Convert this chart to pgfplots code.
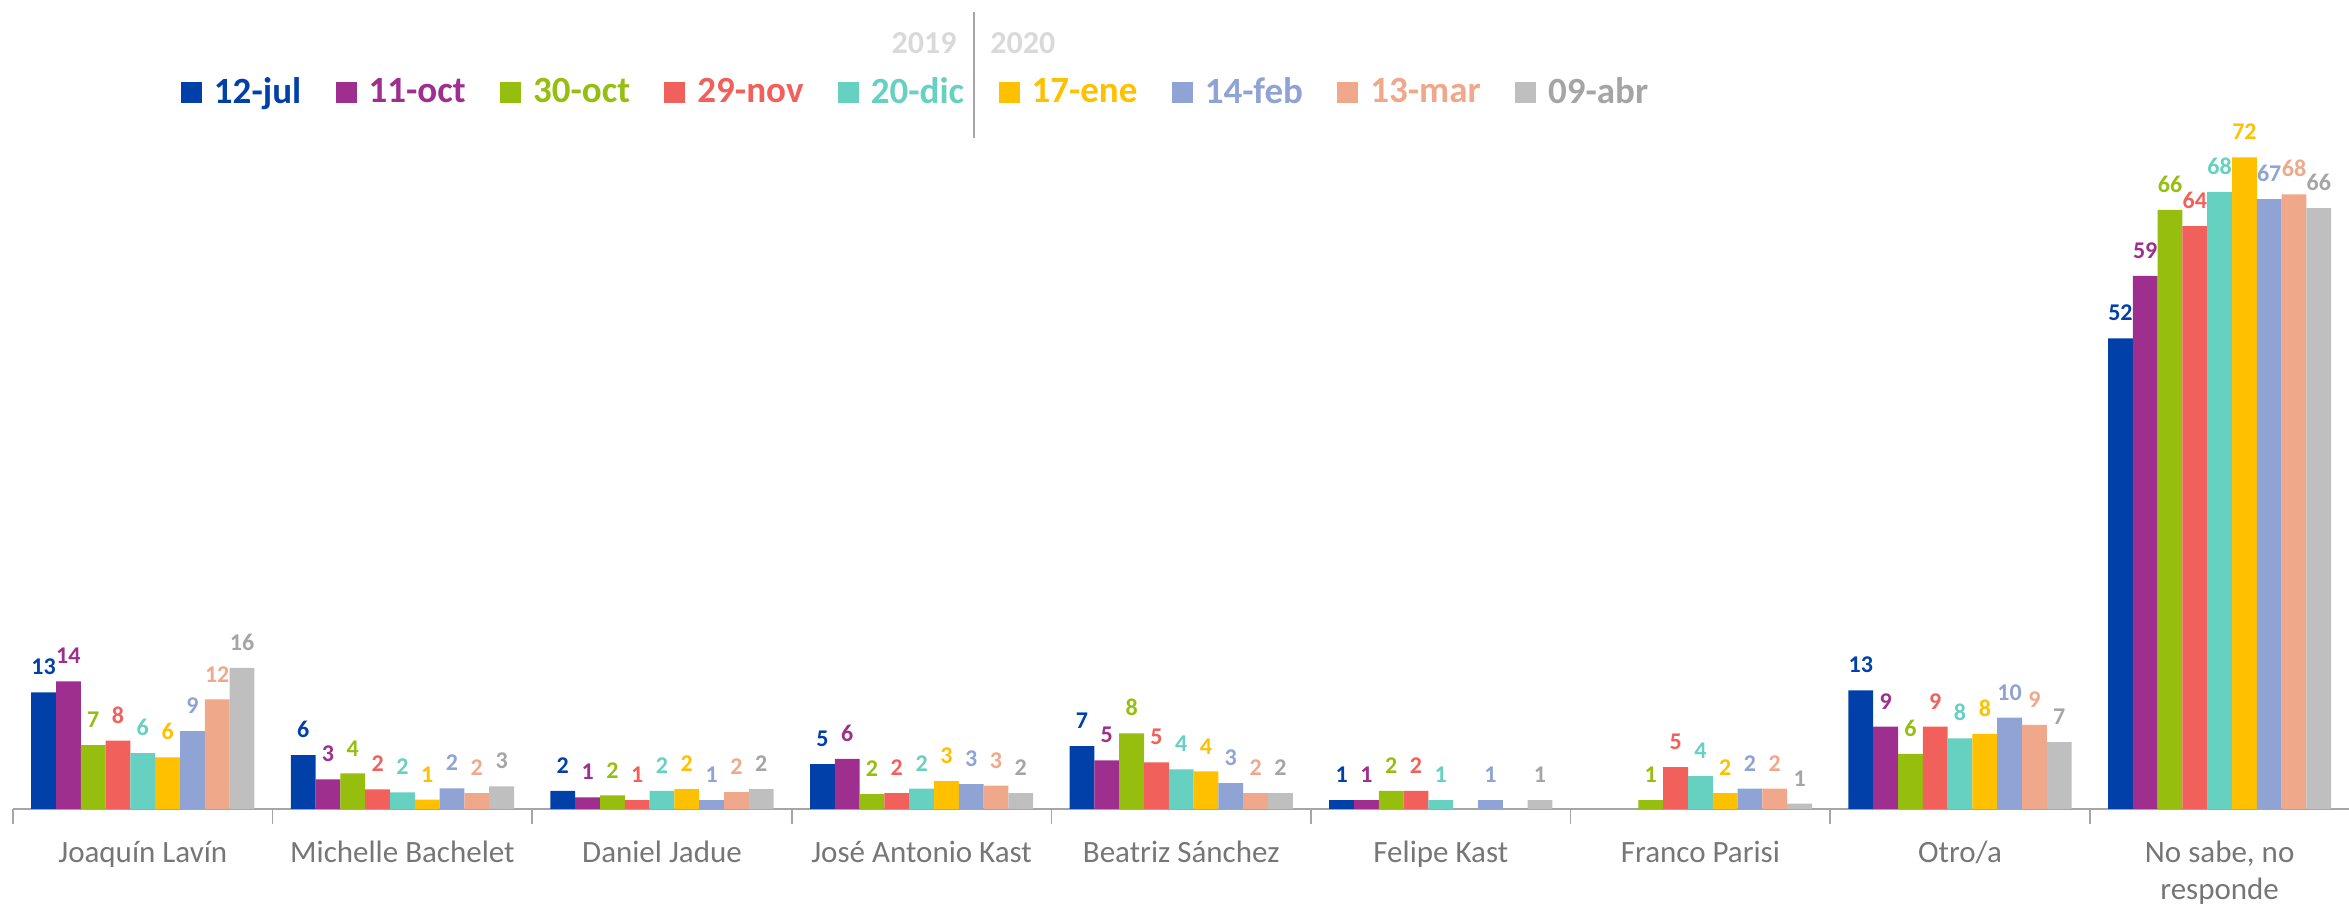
\documentclass[border=0pt]{standalone}
\usepackage{pgfplots}
\pgfplotsset{compat=1.18}
\usepackage{pgfplotstable}
\usepackage{fontspec}
\setmainfont{Carlito}
\definecolor{c1}{HTML}{0040A8}
\definecolor{c2}{HTML}{9E2F8F}
\definecolor{c3}{HTML}{96BE0F}
\definecolor{c4}{HTML}{F2605C}
\definecolor{c5}{HTML}{66D0C1}
\definecolor{c6}{HTML}{FFC000}
\definecolor{c7}{HTML}{8FA3D4}
\definecolor{c8}{HTML}{F0A88A}
\definecolor{c9}{HTML}{BFBFBF}
\definecolor{c9t}{HTML}{A5A5A5}
\definecolor{axgray}{HTML}{A6A6A6}
\definecolor{labgray}{HTML}{767676}
\definecolor{yeargray}{HTML}{D9D9D9}

\pgfplotstableread{
x y l
0 12.9 13
1 5.96 6
2 1.99 2
3 4.96 5
4 6.95 7
5 0.99 1
7 13.1 13
8 52.0 52
}\tA
\pgfplotstableread{
x y l
0 14.1 14
1 3.27 3
2 1.29 1
3 5.55 6
4 5.37 5
5 0.99 1
7 9.1 9
8 58.9 59
}\tB
\pgfplotstableread{
x y l
0 7.06 7
1 3.93 4
2 1.5 2
3 1.65 2
4 8.35 8
5 1.99 2
6 0.99 1
7 6.1 6
8 66.2 66
}\tC
\pgfplotstableread{
x y l
0 7.55 8
1 2.17 2
2 0.99 1
3 1.76 2
4 5.15 5
5 1.99 2
6 4.63 5
7 9.1 9
8 64.4 64
}\tD
\pgfplotstableread{
x y l
0 6.18 6
1 1.84 2
2 1.99 2
3 2.24 2
4 4.38 4
5 0.99 1
6 3.64 4
7 7.8 8
8 68.2 68
}\tE
\pgfplotstableread{
x y l
0 5.7 6
1 1.03 1
2 2.2 2
3 3.09 3
4 4.15 4
6 1.76 2
7 8.3 8
8 72.0 72
}\tF
\pgfplotstableread{
x y l
0 8.6 9
1 2.28 2
2 0.99 1
3 2.76 3
4 2.87 3
5 0.99 1
6 2.24 2
7 10.1 10
8 67.4 67
}\tG
\pgfplotstableread{
x y l
0 12.1 12
1 1.76 2
2 1.87 2
3 2.57 3
4 1.76 2
6 2.24 2
7 9.3 9
8 67.9 68
}\tH
\pgfplotstableread{
x y l
0 15.6 16
1 2.5 3
2 2.2 2
3 1.76 2
4 1.76 2
5 0.99 1
6 0.6 1
7 7.4 7
8 66.4 66
}\tI

\begin{document}
\begin{tikzpicture}
\useasboundingbox (0,0) rectangle (1174.5pt,452pt);
\begin{axis}[
  at={(6.5pt,47.5pt)}, anchor=south west,
  x=129.8pt, y=4.525pt,
  xmin=-0.5, xmax=8.5, ymin=0, ymax=80,
  clip=false,
  axis y line=none,
  axis x line*=bottom,
  axis line style={draw=axgray, line width=0.75pt},
  xtick={0,...,8},
  xticklabels={Joaquín Lavín, Michelle Bachelet, Daniel Jadue, José Antonio Kast, Beatriz Sánchez, Felipe Kast, Franco Parisi, Otro/a, {\begin{tabular}[t]{@{}c@{}}No sabe, no\\responde\end{tabular}}},
  major tick length=0pt,
  minor xtick={-0.5,0.5,...,8.5},
  minor tick length=7.5pt,
  tick align=outside,
  minor tick style={draw=axgray, line width=0.75pt},
  xticklabel style={font=\fontsize{15.5}{18}\selectfont, text=labgray, anchor=base, yshift=-27pt},
  ybar=0pt, bar width=12.4pt,
  point meta=explicit symbolic,
  nodes near coords,
  every node near coord/.append style={font=\bfseries\fontsize{12}{14}\selectfont, inner sep=0pt, anchor=south, yshift=8.5pt},
  legend columns=9,
  legend style={draw=none, fill=none, inner sep=0pt, outer sep=0pt,
    at={(rel axis cs:0.0719,0.990)}, anchor=west,
    font=\bfseries\fontsize{18.5}{20}\selectfont,
    /tikz/every odd column/.style={column sep=6pt},
    /tikz/every even column/.style={column sep=17.2pt},
    nodes={inner sep=0pt}},
  legend image code/.code={\path[#1, draw=none] (0pt,-5.25pt) rectangle (10.5pt,5.25pt);},
]
\addplot[fill=c1, draw=none, every node near coord/.append style={text=c1}] table[x=x, y=y, meta=l] {\tA};
\addlegendentry{\textcolor{c1}{12-jul}}
\addplot[fill=c2, draw=none, every node near coord/.append style={text=c2}] table[x=x, y=y, meta=l] {\tB};
\addlegendentry{\textcolor{c2}{11-oct}}
\addplot[fill=c3, draw=none, every node near coord/.append style={text=c3}] table[x=x, y=y, meta=l] {\tC};
\addlegendentry{\textcolor{c3}{30-oct}}
\addplot[fill=c4, draw=none, every node near coord/.append style={text=c4}] table[x=x, y=y, meta=l] {\tD};
\addlegendentry{\textcolor{c4}{29-nov}}
\addplot[fill=c5, draw=none, every node near coord/.append style={text=c5}] table[x=x, y=y, meta=l] {\tE};
\addlegendentry{\textcolor{c5}{20-dic}}
\addplot[fill=c6, draw=none, every node near coord/.append style={text=c6}] table[x=x, y=y, meta=l] {\tF};
\addlegendentry{\textcolor{c6}{17-ene}}
\addplot[fill=c7, draw=none, every node near coord/.append style={text=c7}] table[x=x, y=y, meta=l] {\tG};
\addlegendentry{\textcolor{c7}{14-feb}}
\addplot[fill=c8, draw=none, every node near coord/.append style={text=c8}] table[x=x, y=y, meta=l] {\tH};
\addlegendentry{\textcolor{c8}{13-mar}}
\addplot[fill=c9, draw=none, every node near coord/.append style={text=c9t}] table[x=x, y=y, meta=l] {\tI};
\addlegendentry{\textcolor{c9t}{09-abr}}
\end{axis}
\draw[draw=axgray, line width=0.6pt] (487pt,446pt) -- (487pt,383pt);
\node[anchor=east, inner sep=0pt, text=yeargray, font=\bfseries\fontsize{16}{18}\selectfont] at (478.5pt,430.5pt) {2019};
\node[anchor=west, inner sep=0pt, text=yeargray, font=\bfseries\fontsize{16}{18}\selectfont] at (495pt,430.5pt) {2020};
\end{tikzpicture}
\end{document}
